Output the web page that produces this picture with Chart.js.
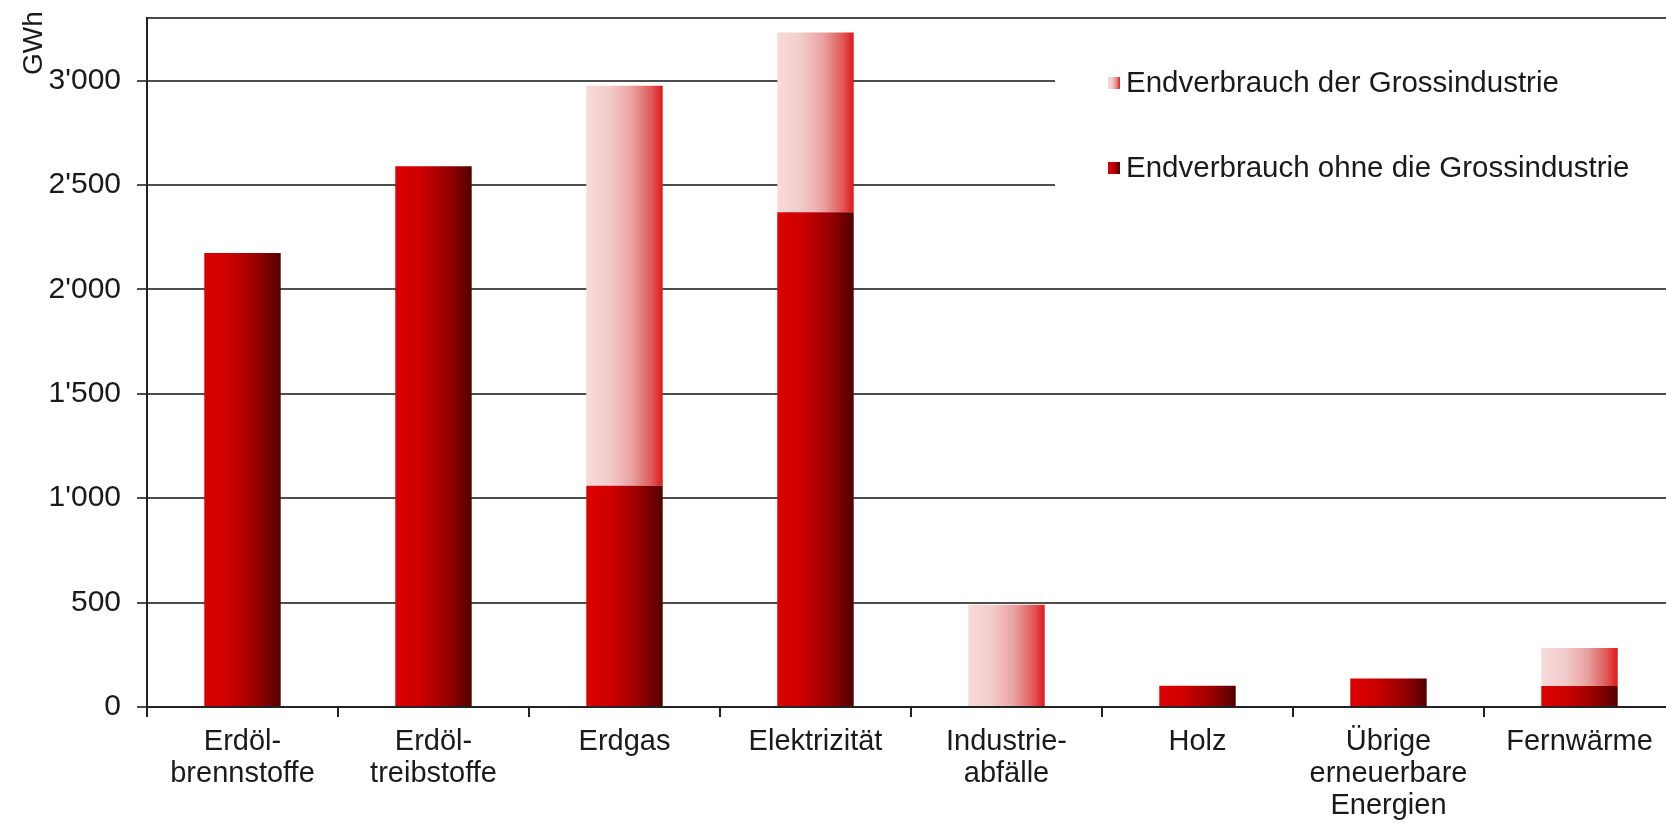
<!DOCTYPE html>
<html>
<head>
<meta charset="utf-8">
<script src="https://cdn.jsdelivr.net/npm/chart.js@4"></script>
<style>
    html, body { margin: 0; padding: 0; background: #fff; overflow: hidden; }
    canvas { display: block; }
</style>
</head>
<body>
<canvas id="chart" width="1700" height="824"></canvas>
<script>
const categories = [
    ['Erdöl-', 'brennstoffe'],
    ['Erdöl-', 'treibstoffe'],
    'Erdgas',
    'Elektrizität',
    ['Industrie-', 'abfälle'],
    'Holz',
    ['Übrige', 'erneuerbare', 'Energien'],
    'Fernwärme'
];
// GWh
const ohneGrossindustrie = [2175, 2590, 1060, 2370, 0, 102, 137, 100];
const grossindustrie = [0, 0, 1915, 860, 490, 0, 0, 183];
const yTickValues = [0, 500, 1000, 1500, 2000, 2500, 3000];
const yMax = 3300;
const unitLabel = 'GWh';

const FONT = '"Liberation Sans", Arial, sans-serif';
const TEXT = '#1a1a1a';
const BAR_FRACTION = 0.4;

const darkStops = [[0, '#dc0000'], [0.3, '#d00000'], [0.7, '#960000'], [1, '#520000']];
const lightStops = [[0, '#f8dada'], [0.3, '#f3cccc'], [0.6, '#e9a2a2'], [0.85, '#e05a5a'], [1, '#e0181a']];

function fmt(v) {
    return String(v).replace(/\B(?=(\d{3})+(?!\d))/g, "'");
}

// horizontal gradient across each bar, placed from the category scale
function barGradient(c, stops) {
    const chart = c.chart;
    const xs = chart.scales.x;
    if (!chart.chartArea || !xs || c.dataIndex === undefined) return stops[1][1];
    const half = xs.width / categories.length * BAR_FRACTION / 2;
    const cx = xs.getPixelForValue(c.dataIndex);
    const g = chart.ctx.createLinearGradient(cx - half, 0, cx + half, 0);
    stops.forEach(([o, col]) => g.addColorStop(o, col));
    return g;
}

// y unit written vertically in the top-left corner
const unitTitle = {
    id: 'unitTitle',
    afterDraw(chart) {
        const ctx = chart.ctx;
        ctx.save();
        ctx.translate(42, 75);
        ctx.rotate(-Math.PI / 2);
        ctx.font = '28px ' + FONT;
        ctx.fillStyle = TEXT;
        ctx.textAlign = 'left';
        ctx.textBaseline = 'alphabetic';
        ctx.fillText(unitLabel, 0, 0);
        ctx.restore();
    }
};

// legend boxed in white over the upper right of the plot
const legendBox = {
    id: 'legendBox',
    afterDraw(chart) {
        const ctx = chart.ctx;
        ctx.save();
        ctx.fillStyle = '#fff';
        ctx.fillRect(1055, 36, chart.width - 1055, 168);
        const items = chart.data.datasets.slice().reverse();
        items.forEach((ds, i) => {
            const y = 83 + i * 85;
            const g = ctx.createLinearGradient(1108, 0, 1120, 0);
            ds.gradientStops.forEach(([o, col]) => g.addColorStop(o, col));
            ctx.fillStyle = g;
            ctx.fillRect(1108, y - 6, 12, 12);
            ctx.fillStyle = TEXT;
            ctx.font = '29.5px ' + FONT;
            ctx.textBaseline = 'middle';
            ctx.textAlign = 'left';
            ctx.fillText(ds.label, 1126, y + 1);
        });
        ctx.restore();
    }
};

new Chart(document.getElementById('chart'), {
    type: 'bar',
    data: {
        labels: categories,
        datasets: [
            {
                label: 'Endverbrauch ohne die Grossindustrie',
                data: ohneGrossindustrie,
                gradientStops: darkStops,
                backgroundColor: c => barGradient(c, darkStops),
                xAxisID: 'x',
                barPercentage: BAR_FRACTION,
                categoryPercentage: 1
            },
            {
                label: 'Endverbrauch der Grossindustrie',
                data: grossindustrie,
                gradientStops: lightStops,
                backgroundColor: c => barGradient(c, lightStops),
                xAxisID: 'x',
                barPercentage: BAR_FRACTION,
                categoryPercentage: 1
            }
        ]
    },
    options: {
        responsive: false,
        animation: false,
        devicePixelRatio: 1,
        layout: { padding: { top: 18, right: 25, left: 0, bottom: 0 } },
        plugins: {
            legend: { display: false },
            tooltip: { enabled: false }
        },
        scales: {
            x: {
                type: 'category',
                position: 'bottom',
                stacked: true,
                offset: true,
                grid: { offset: true, drawOnChartArea: false, color: '#222', lineWidth: 2, tickLength: 10 },
                border: { color: '#222', width: 2 },
                ticks: {
                    color: TEXT,
                    font: { family: FONT, size: 29, lineHeight: 1.1 },
                    padding: 9,
                    maxRotation: 0,
                    autoSkip: false
                },
                afterFit: s => { s.height = 117; }
            },
            xTop: {
                type: 'category',
                position: 'top',
                grid: { display: true, drawOnChartArea: false, drawTicks: false },
                border: { color: '#4a4a4a', width: 2 },
                ticks: { display: false },
                afterFit: s => { s.height = 0; }
            },
            y: {
                stacked: true,
                min: 0,
                max: yMax,
                grid: { color: '#4e4e4e', lineWidth: 2, tickLength: 10 },
                border: { color: '#222', width: 2 },
                ticks: {
                    padding: 16,
                    color: TEXT,
                    font: { family: FONT, size: 30 },
                    callback: v => fmt(v)
                },
                afterBuildTicks: s => { s.ticks = yTickValues.map(v => ({ value: v })); },
                afterFit: s => {
                    s.width = 147;
                    s.paddingTop = 0;
                    s.paddingBottom = 0;
                }
            }
        }
    },
    plugins: [unitTitle, legendBox]
});
</script>
</body>
</html>
